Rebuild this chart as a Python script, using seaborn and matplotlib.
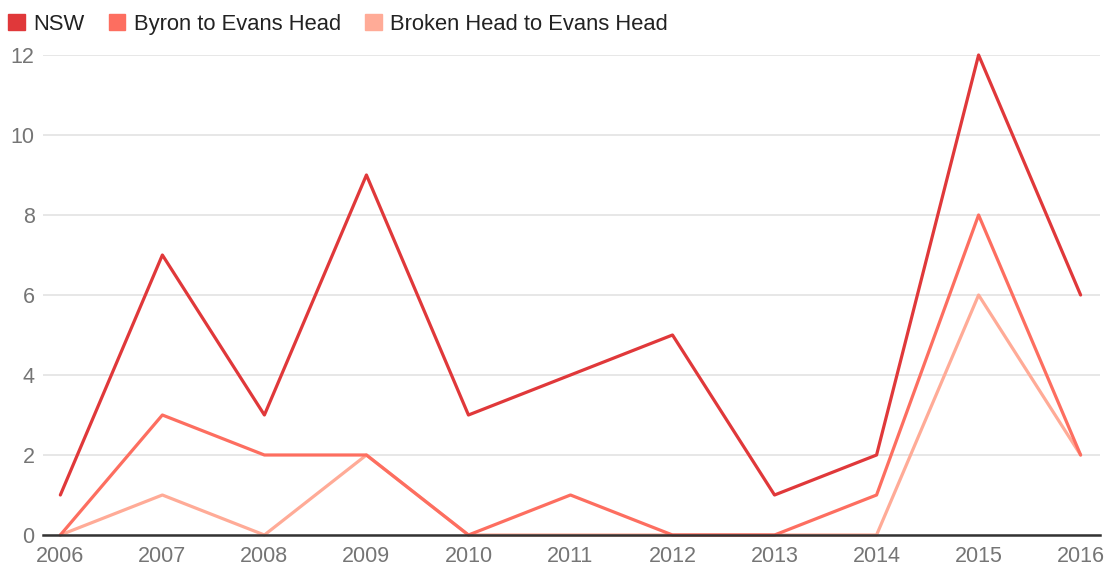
import matplotlib
matplotlib.use("Agg")
import matplotlib.pyplot as plt
import matplotlib.patches as mpatches
import seaborn as sns
import pandas as pd

years = [2006, 2007, 2008, 2009, 2010, 2011, 2012, 2013, 2014, 2015, 2016]
nsw = [1, 7, 3, 9, 3, 4, 5, 1, 2, 12, 6]
byron = [0, 3, 2, 2, 0, 1, 0, 0, 1, 8, 2]
broken = [0, 1, 0, 2, 0, 0, 0, 0, 0, 6, 2]
series_names = ["NSW", "Byron to Evans Head", "Broken Head to Evans Head"]
y_ticks = [0, 2, 4, 6, 8, 10, 12]

colors = ["#e0383a", "#fd6e60", "#ffab97"]

sns.set_theme(style="white")
plt.rcParams["font.family"] = ["Liberation Sans", "DejaVu Sans"]

df = pd.DataFrame({
    "year": years * 3,
    "value": nsw + byron + broken,
    "series": [series_names[0]] * len(years) + [series_names[1]] * len(years) + [series_names[2]] * len(years),
})

fig = plt.figure(figsize=(11.11, 5.68), dpi=100)
W, H = 1111, 568
ax = fig.add_axes([43 / W, 1 - 535 / H, (1100 - 43) / W, (535 - 55) / H])

# draw in reverse order so NSW on top
for name, c in list(zip(series_names, colors))[::-1]:
    sub = df[df["series"] == name]
    sns.lineplot(data=sub, x="year", y="value", ax=ax, color=c, linewidth=2.3,
                 clip_on=False, legend=False, zorder=3)

ax.set_xlim(2005.83, 2016.19)
ax.set_ylim(0, 12)
ax.set_yticks(y_ticks)
ax.set_yticklabels([str(v) for v in y_ticks])
ax.set_xticks(years)
ax.set_xticklabels([str(y) for y in years])
ax.set_xlabel("")
ax.set_ylabel("")
ax.grid(axis="y", color="#e3e3e3", linewidth=1.2, zorder=0)
ax.grid(axis="x", visible=False)
for s in ["top", "right", "left"]:
    ax.spines[s].set_visible(False)
ax.spines["bottom"].set_color("#333333")
ax.spines["bottom"].set_linewidth(1.8)
ax.spines["bottom"].set_zorder(4)
ax.tick_params(axis="y", length=0, pad=6, labelsize=15.5, labelcolor="#757575")
ax.tick_params(axis="x", length=0, pad=8, labelsize=15.5, labelcolor="#757575")

handles = [mpatches.Patch(facecolor=c, edgecolor=c, label=n) for n, c in zip(series_names, colors)]
fig.legend(handles=handles, loc="upper left", bbox_to_anchor=(-0.0105, 1.01), ncol=3, frameon=False,
           fontsize=15.8, handlelength=0.75, handleheight=0.75, handletextpad=0.4, columnspacing=1.1,
           labelcolor="#222222")

fig.savefig("out.png", dpi=100)
